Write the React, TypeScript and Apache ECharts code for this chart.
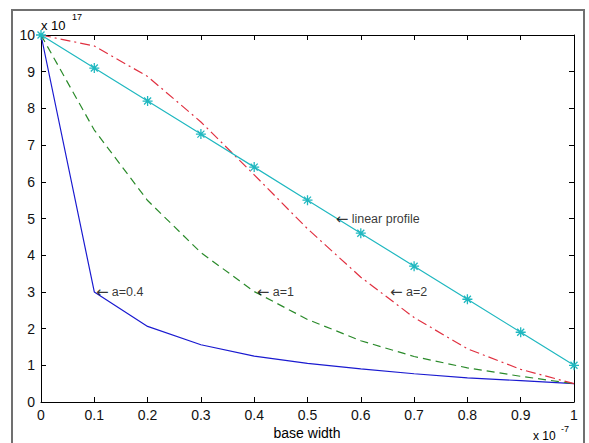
import { useEffect, useRef } from 'react';
import * as echarts from 'echarts';

const xValues = [0, 0.1, 0.2, 0.3, 0.4, 0.5, 0.6, 0.7, 0.8, 0.9, 1];
const profileA04 = [10, 3.0, 2.06, 1.56, 1.25, 1.05, 0.9, 0.77, 0.66, 0.58, 0.5];
const profileA1 = [10, 7.41, 5.49, 4.07, 3.01, 2.25, 1.67, 1.24, 0.93, 0.7, 0.5];
const profileA2 = [10, 9.7, 8.87, 7.63, 6.19, 4.72, 3.4, 2.3, 1.45, 0.89, 0.5];
const linearProfile = [10, 9.1, 8.2, 7.3, 6.4, 5.5, 4.6, 3.7, 2.8, 1.9, 1.0];

const annotationTexts = ['a=0.4', 'a=1', 'a=2', 'linear profile'];
const annotationX = [0.103, 0.405, 0.655, 0.553];
const annotationY = [3.0, 3.0, 3.0, 5.0];

const xLabel = 'base width';
const yExponent = '17';
const xExponent = '-7';

const FONT = 'Liberation Sans, Arial, sans-serif';

export default function App() {
  const ref = useRef<HTMLDivElement>(null);
  useEffect(() => {
    if (!ref.current) return;
    const chart = echarts.init(ref.current, null, { renderer: 'svg' });
    const pairs = (ys: number[]) => xValues.map((x, i) => [x, ys[i]]);
    const fmt = (v: number) => (Math.round(v * 10) / 10).toString();
    const star = 'path://M5,0L5,10M0,5L10,5M1.5,1.5L8.5,8.5M1.5,8.5L8.5,1.5';
    chart.setOption({
      animation: false,
      backgroundColor: '#ffffff',
      textStyle: { fontFamily: FONT },
      grid: { left: 41, top: 35, right: 15, bottom: 41, containLabel: false },
      xAxis: [
        {
          type: 'value', min: 0, max: 1, interval: 0.1,
          axisLine: { show: true, lineStyle: { color: '#000', width: 1 } },
          axisTick: { show: true, inside: true, length: 5, lineStyle: { color: '#000' } },
          axisLabel: { color: '#111', fontSize: 14, fontFamily: FONT, margin: 6, formatter: fmt },
          splitLine: { show: false },
        },
        {
          type: 'value', min: 0, max: 1, interval: 0.1, position: 'top',
          axisLine: { show: true, onZero: false, lineStyle: { color: '#000', width: 1 } },
          axisTick: { show: true, inside: true, length: 5, lineStyle: { color: '#000' } },
          axisLabel: { show: false },
          splitLine: { show: false },
        },
      ],
      yAxis: [
        {
          type: 'value', min: 0, max: 10, interval: 1,
          axisLine: { show: true, lineStyle: { color: '#000', width: 1 } },
          axisTick: { show: true, inside: true, length: 5, lineStyle: { color: '#000' } },
          axisLabel: { color: '#111', fontSize: 14, fontFamily: FONT, margin: 6 },
          splitLine: { show: false },
        },
        {
          type: 'value', min: 0, max: 10, interval: 1, position: 'right',
          axisLine: { show: true, onZero: false, lineStyle: { color: '#000', width: 1 } },
          axisTick: { show: true, inside: true, length: 5, lineStyle: { color: '#000' } },
          axisLabel: { show: false },
          splitLine: { show: false },
        },
      ],
      series: [
        {
          type: 'line', data: pairs(profileA04), showSymbol: false, symbol: 'none',
          lineStyle: { color: '#1a1ad0', width: 1.2 }, z: 3,
        },
        {
          type: 'line', data: pairs(profileA1), showSymbol: false, symbol: 'none',
          lineStyle: { color: '#2a8a2a', width: 1.2, type: [8, 5] }, z: 3,
        },
        {
          type: 'line', data: pairs(profileA2), showSymbol: false, symbol: 'none',
          lineStyle: { color: '#e03040', width: 1.2, type: [10, 4, 2, 4] }, z: 3,
        },
        {
          type: 'line', data: pairs(linearProfile), symbol: star, symbolSize: 10, showSymbol: true,
          lineStyle: { color: '#20b8c0', width: 1.2 },
          itemStyle: { color: '#20b8c0', borderColor: '#20b8c0', borderWidth: 1.3 }, z: 4,
        },
        {
          type: 'scatter', symbolSize: 0, silent: true,
          data: annotationTexts.map((t, i) => ({ name: t, value: [annotationX[i], annotationY[i]] })),
          label: {
            show: true, position: 'right', distance: 0,
            formatter: (p: any) => '{arr|\u2190} {t|' + p.name + '}',
            rich: {
              arr: { fontFamily: 'DejaVu Sans', fontSize: 15, color: '#000' },
              t: { fontFamily: FONT, fontSize: 12.5, color: '#000' },
            },
          },
          z: 5,
        },
      ],
      graphic: [
        {
          type: 'rect', shape: { x: 12, y: 10, width: 572, height: 440 },
          style: { fill: 'none', stroke: '#707070', lineWidth: 2 }, silent: true,
        },
        {
          type: 'text', x: 41, y: 19,
          style: { text: 'x 10', fontSize: 13, fontFamily: FONT, fill: '#000' },
        },
        {
          type: 'text', x: 72, y: 12,
          style: { text: yExponent, fontSize: 9, fontFamily: FONT, fill: '#000' },
        },
        {
          type: 'text', x: 307, y: 426,
          style: { text: xLabel, fontSize: 14, fontFamily: FONT, fill: '#000', align: 'center' },
        },
        {
          type: 'text', x: 533, y: 430,
          style: { text: 'x 10', fontSize: 12, fontFamily: FONT, fill: '#000' },
        },
        {
          type: 'text', x: 561, y: 424,
          style: { text: xExponent, fontSize: 9, fontFamily: FONT, fill: '#000' },
        },
      ],
    });
    return () => chart.dispose();
  }, []);
  return <div ref={ref} style={{ width: 589, height: 443, position: 'absolute', left: 0, top: 0 }} />;
}
